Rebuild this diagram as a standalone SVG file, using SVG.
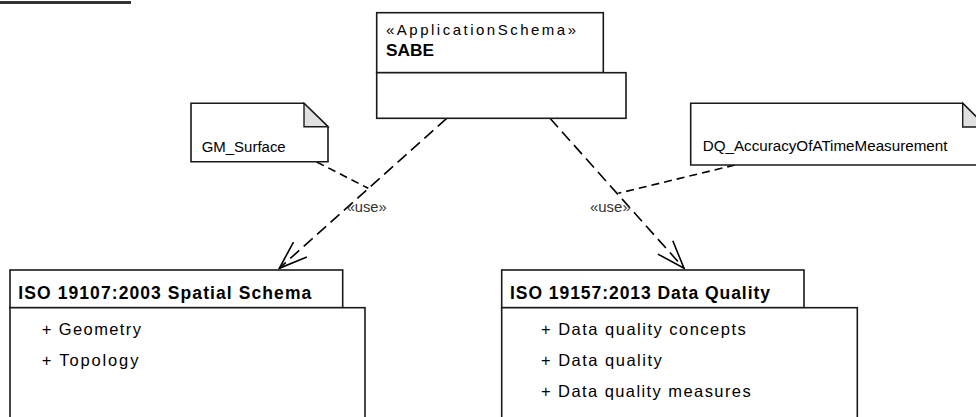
<svg xmlns="http://www.w3.org/2000/svg" width="976" height="417" viewBox="0 0 976 417">
<style>
  .box { fill: #ffffff; stroke: #1a1a1a; stroke-width: 1.6; }
  .fold { fill: #e0e0e0; stroke: #1a1a1a; stroke-width: 1.4; }
  .txt { font-family: "Liberation Sans", Arial, sans-serif; fill: #000; }
  .b { font-weight: bold; }
  .dep { fill: none; stroke: #000; stroke-width: 1.6; stroke-dasharray: 12 6; }
  .link { fill: none; stroke: #000; stroke-width: 1.6; stroke-dasharray: 8 5; }
  .lbl { font-family: "Liberation Sans", Arial, sans-serif; fill: #333; font-size: 14.5px; }
</style>
<defs>
  <marker id="open" markerUnits="userSpaceOnUse" orient="auto" refX="0" refY="0" viewBox="-32 -13 34 26" markerWidth="34" markerHeight="26">
    <path d="M-28,-10 L0,0 L-28,10" fill="none" stroke="#000" stroke-width="1.6"/>
  </marker>
</defs>
<rect width="976" height="417" fill="#ffffff"/>
<line x1="0" y1="2.5" x2="131" y2="2.5" stroke="#333" stroke-width="3"/>

<g id="connectors">
  <path class="dep" d="M446.7,118.3 L279.3,268.3" marker-end="url(#open)"/>
  <path class="dep" d="M550,118.3 L684,268.3" marker-end="url(#open)"/>
  <path class="link" d="M316.7,162 L368.3,188.3"/>
  <path class="link" d="M735,165 L618.3,193.3"/>
  <text class="lbl" x="346.7" y="212" textLength="40" lengthAdjust="spacingAndGlyphs">«use»</text>
  <text class="lbl" x="590" y="212" textLength="40.7" lengthAdjust="spacingAndGlyphs">«use»</text>
</g>

<g id="sabe">
  <rect class="box" x="376.7" y="12.7" width="226.6" height="60"/>
  <rect class="box" x="376.7" y="72.7" width="249.3" height="45.6"/>
  <text class="txt" x="386" y="34.5" font-size="15" textLength="190" lengthAdjust="spacing">«ApplicationSchema»</text>
  <text class="txt b" x="386" y="56" font-size="16.5" textLength="48" lengthAdjust="spacingAndGlyphs">SABE</text>
</g>

<g id="note-gm-surface">
  <path class="box" d="M191,103.3 L304,103.3 L328,126.7 L328,161.7 L191,161.7 Z"/>
  <path class="fold" d="M304,103.3 L304,126.7 L328,126.7 Z"/>
  <text class="txt" x="201.7" y="151.5" font-size="15.5" textLength="84" lengthAdjust="spacingAndGlyphs">GM_Surface</text>
</g>

<g id="note-dq">
  <path class="box" d="M690.7,103.3 L962.7,103.3 L986.7,127 L986.7,165 L690.7,165 Z"/>
  <path class="fold" d="M962.7,103.3 L962.7,127 L986.7,127 Z"/>
  <text class="txt" x="702.7" y="150.7" font-size="15.5" textLength="244.7" lengthAdjust="spacingAndGlyphs">DQ_AccuracyOfATimeMeasurement</text>
</g>

<g id="iso19107">
  <rect class="box" x="10" y="270" width="332.7" height="37.7"/>
  <rect class="box" x="10" y="307.7" width="355" height="130"/>
  <text class="txt b" x="18.3" y="299" font-size="17.5" textLength="293" lengthAdjust="spacing">ISO 19107:2003 Spatial Schema</text>
  <text class="txt" x="41.7" y="335" font-size="16.5" textLength="99.3" lengthAdjust="spacing">+ Geometry</text>
  <text class="txt" x="41.7" y="366" font-size="16.5" textLength="96.7" lengthAdjust="spacing">+ Topology</text>
</g>

<g id="iso19157">
  <rect class="box" x="501.7" y="270" width="302.3" height="37.7"/>
  <rect class="box" x="501.7" y="307.7" width="355.6" height="130"/>
  <text class="txt b" x="510" y="299" font-size="17.5" textLength="260" lengthAdjust="spacing">ISO 19157:2013 Data Quality</text>
  <text class="txt" x="541" y="335" font-size="16.5" textLength="204.7" lengthAdjust="spacing">+ Data quality concepts</text>
  <text class="txt" x="541" y="365.7" font-size="16.5" textLength="120.7" lengthAdjust="spacing">+ Data quality</text>
  <text class="txt" x="541" y="396.7" font-size="16.5" textLength="209.7" lengthAdjust="spacing">+ Data quality measures</text>
</g>
</svg>
